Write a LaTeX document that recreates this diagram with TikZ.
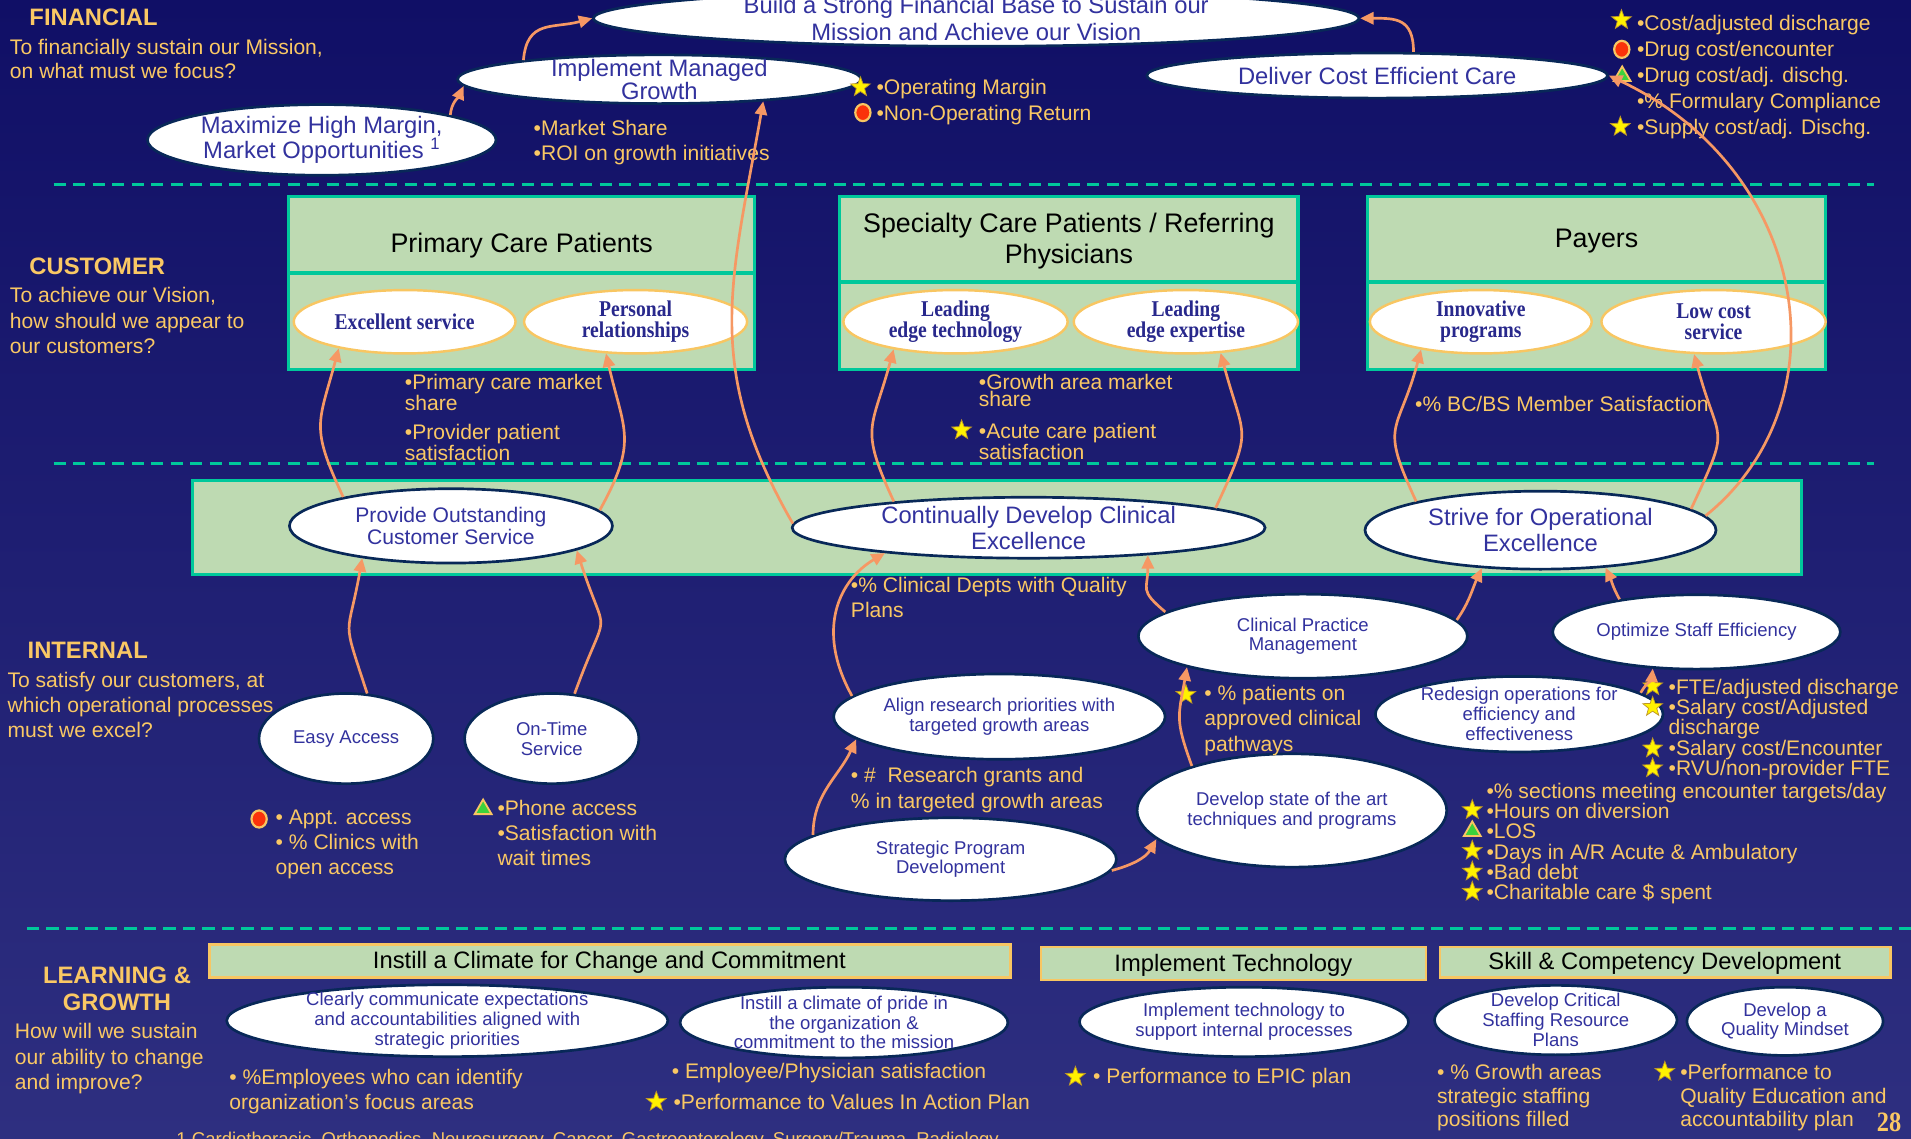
\documentclass[tikz,border=0pt]{standalone}
\usepackage{fontspec}
\setmainfont{Liberation Sans}
\newfontfamily\narrowserif{Liberation Serif}[FakeStretch=0.87]
\usetikzlibrary{shapes.geometric,arrows.meta}

\definecolor{bgtop}{RGB}{16,15,102}
\definecolor{bgbot}{RGB}{46,47,128}
\definecolor{goldtext}{RGB}{250,200,100}
\definecolor{inkblue}{RGB}{50,50,158}
\definecolor{custink}{RGB}{40,40,140}
\definecolor{rimblue}{RGB}{8,40,88}
\definecolor{leaf}{RGB}{190,218,178}
\definecolor{tealrim}{RGB}{0,200,155}
\definecolor{arrowcol}{RGB}{246,152,100}
\definecolor{amberrim}{RGB}{248,198,98}
\definecolor{redmark}{RGB}{250,50,10}
\definecolor{greenmark}{RGB}{60,210,60}
\definecolor{starrim}{RGB}{190,150,40}

\newcommand\fz[2]{\fontsize{#1pt}{#2pt}\selectfont}
% ellipse with its caption: style, name, x, y, width, height, caption style, caption
\newcommand\ovalnode[8]{%
  \node[#1, minimum width=#5pt, minimum height=#6pt] (#2) at (#3,#4) {};
  \node[#7] (#2-t) at (#2.center) {#8};}

\tikzset{
  bubble/.style={ellipse, draw=rimblue, line width=2.2pt, fill=white, inner sep=0pt},
  custoval/.style={ellipse, draw=amberrim, line width=2pt, fill=white, inner sep=0pt},
  lbl/.style={text=inkblue, align=center, inner sep=0pt},
  custlbl/.style={text=custink, align=center, inner sep=0pt, font=\narrowserif\bfseries\fz{18.5}{17}},
  note/.style={text=goldtext, align=left, inner sep=0pt, font=\fz{17.3}{20}},
  head/.style={text=goldtext, inner sep=0pt, font=\bfseries\fz{19.5}{22.7}},
  arr/.style={draw=arrowcol, line width=2.2pt, -{Triangle[length=11pt,width=10pt]}},
  panel/.style={draw=tealrim, line width=2.5pt, fill=leaf},
  divider/.style={draw=tealrim, line width=3pt},
  lgbox/.style={draw=amberrim, line width=2pt, fill=leaf},
  sepline/.style={draw=tealrim, line width=2.5pt, dash pattern=on 10pt off 6pt},
  boxtext/.style={text=black, inner sep=0pt, align=center},
  starmark/.style={star, star points=5, star point ratio=2.4, fill=yellow, draw=starrim, line width=.6pt, minimum size=17pt, inner sep=0pt},
  dotmark/.style={ellipse, fill=redmark, draw=amberrim, line width=1.8pt, minimum width=12.5pt, minimum height=14pt, inner sep=0pt},
  trimark/.style={regular polygon, regular polygon sides=3, fill=greenmark, draw=amberrim, line width=1.5pt, minimum size=16pt, inner sep=0pt},
}

\begin{document}
\begin{tikzpicture}[x=1pt,y=1pt]
\useasboundingbox (0,0) rectangle (1568,-934);
\shade[top color=bgtop, bottom color=bgbot] (0,0) rectangle (1568,-934);

% separators between the four perspectives
\draw[sepline] (44,-151) -- (1538,-151);
\draw[sepline] (44,-380) -- (1538,-380);
\draw[sepline] (22,-762) -- (1568,-762);

% customer panels
\draw[panel] (237,-161) rectangle (619,-303);
\draw[divider] (237,-224) -- (619,-224);
\draw[panel] (689,-161) rectangle (1065,-303);
\draw[divider] (689,-231.5) -- (1065,-231.5);
\draw[panel] (1122,-161) rectangle (1498,-303);
\draw[divider] (1122,-231.5) -- (1498,-231.5);
\node[boxtext, font=\fz{22}{25}] (primhead) at (428,-201.2) {Primary Care Patients};
\node[boxtext, font=\fz{22}{25}] (spechead) at (877,-197.7) {Specialty Care Patients / Referring\\Physicians};
\node[boxtext, font=\fz{22}{25}] (payhead) at (1310,-197.7) {Payers};

% internal band
\draw[panel] (158,-394) rectangle (1478,-471);

% learning & growth headers
\draw[lgbox] (172,-775) rectangle (829,-802);
\draw[lgbox] (854,-777) rectangle (1170,-804);
\draw[lgbox] (1181.5,-777) rectangle (1551,-802);
\node[boxtext, font=\fz{19.5}{22}] (climhead) at (500,-790) {Instill a Climate for Change and Commitment};
\node[boxtext, font=\fz{19.5}{22}] (techhead) at (1012,-792) {Implement Technology};
\node[boxtext, font=\fz{19.5}{22}] (skillhead) at (1366,-790.6) {Skill \& Competency Development};

% financial objectives
\ovalnode{bubble}{build}{801}{-15}{628}{46}{lbl,font=\fz{19.5}{22}}{Build a Strong Financial Base to Sustain our\\Mission and Achieve our Vision}
\ovalnode{bubble}{implgrowth}{541}{-65}{331}{40}{lbl,font=\fz{19.5}{18.6}}{Implement Managed\\Growth}
\ovalnode{bubble}{deliver}{1130}{-62}{378}{37}{lbl,font=\fz{19.5}{22}}{Deliver Cost Efficient Care}
\ovalnode{bubble}{maxim}{264}{-114.8}{286}{58}{lbl,font=\fz{19.5}{21}}{Maximize High Margin,\\Market Opportunities \textsuperscript{1}}

% customer value propositions
\ovalnode{custoval}{excellent}{332}{-264}{182}{52}{custlbl}{Excellent service}
\ovalnode{custoval}{personal}{521.5}{-264}{183}{52}{custlbl}{Personal\\relationships}
\ovalnode{custoval}{leadtech}{784}{-264}{184}{52}{custlbl}{Leading\\edge technology}
\ovalnode{custoval}{leadexp}{973}{-264}{184}{52}{custlbl}{Leading\\edge expertise}
\ovalnode{custoval}{innov}{1215}{-264}{182}{52}{custlbl}{Innovative\\programs}
\ovalnode{custoval}{lowcost}{1406}{-264}{184}{52}{custlbl}{Low cost\\service}

% internal processes
\ovalnode{bubble}{provide}{370}{-431.5}{265}{61}{lbl,font=\fz{17.3}{18.5}}{Provide Outstanding\\Customer Service}
\ovalnode{bubble}{contdev}{844}{-433}{388}{50}{lbl,font=\fz{19.5}{21.4}}{Continually Develop Clinical\\Excellence}
\ovalnode{bubble}{strive}{1264}{-435}{288}{64}{lbl,font=\fz{19.5}{21.8}}{Strive for Operational\\Excellence}
\ovalnode{bubble}{easy}{284}{-606}{143}{74}{lbl,font=\fz{15.2}{16.5}}{Easy Access}
\ovalnode{bubble}{ontime}{452.7}{-606}{143}{74}{lbl,font=\fz{15.2}{16.5}}{On-Time\\Service}
\ovalnode{bubble}{clinprac}{1069}{-522}{270}{69}{lbl,font=\fz{15.2}{16}}{Clinical Practice\\Management}
\ovalnode{bubble}{optstaff}{1392}{-518.5}{236}{61}{lbl,font=\fz{15.2}{16}}{Optimize Staff Efficiency}
\ovalnode{bubble}{research}{820}{-588}{272}{70}{lbl,font=\fz{15.2}{17}}{Align research priorities with\\targeted growth areas}
\ovalnode{bubble}{redesign}{1246.5}{-586}{236}{62}{lbl,font=\fz{15.2}{16.3}}{Redesign operations for\\efficiency and\\effectiveness}
\ovalnode{bubble}{devstate}{1060}{-665}{254}{93}{lbl,font=\fz{15.2}{16.4}}{Develop state of the art\\techniques and programs}
\ovalnode{bubble}{strategic}{780}{-705}{272}{68}{lbl,font=\fz{15.2}{16.2}}{Strategic Program\\Development}

% learning & growth objectives
\ovalnode{bubble}{clearly}{367}{-837.5}{362}{59}{lbl,font=\fz{15.2}{16.3}}{Clearly communicate expectations\\and accountabilities aligned with\\strategic priorities}
\ovalnode{bubble}{pride}{692.5}{-839}{269}{58}{lbl,font=\fz{15.2}{16.2}}{Instill a climate of pride in\\the organization \&\\commitment to the mission}
\ovalnode{bubble}{impltech}{1020.7}{-838.5}{270}{57}{lbl,font=\fz{15.2}{16}}{Implement technology to\\support internal processes}
\ovalnode{bubble}{critical}{1276.5}{-837}{199}{57}{lbl,font=\fz{15.2}{16.2}}{Develop Critical\\Staffing Resource\\Plans}
\ovalnode{bubble}{mindset}{1464.6}{-838}{161}{56}{lbl,font=\fz{15.2}{15.5}}{Develop a\\Quality Mindset}

% perspective headings and questions
\node[head, anchor=base west] (hfin) at (24,-21.2) {FINANCIAL};
\node[note, anchor=north west] (qfin) at (8,-32) {To financially sustain our Mission,\\on what must we focus?};
\node[head, anchor=base west] (hcust) at (24,-225.5) {CUSTOMER};
\node[note, anchor=north west, font=\fz{17.3}{20.8}] (qcust) at (8,-235.7) {To achieve our Vision,\\how should we appear to\\our customers?};
\node[head, anchor=base west] (hint) at (22.5,-540) {INTERNAL};
\node[note, anchor=north west, font=\fz{17.3}{20.3}] (qint) at (6,-551.7) {To satisfy our customers, at\\which operational processes\\must we excel?};
\node[head, anchor=north, align=center] (hlg) at (96,-792.8) {LEARNING \&\\GROWTH};
\node[note, anchor=north west, font=\fz{17.3}{20.8}] (qlg) at (12,-839.7) {How will we sustain\\our ability to change\\and improve?};

% financial measures
\node[note, anchor=base west] (nopm) at (719,-77.7) {•Operating Margin};
\node[note, anchor=base west] (nnor) at (719,-98.6) {•Non-Operating Return};
\node[note, anchor=base west] (nms) at (437.7,-111.5) {•Market Share};
\node[note, anchor=base west] (nroi) at (437.7,-132) {•ROI on growth initiatives};
\node[note, anchor=base west] (ncad) at (1343,-24.8) {•Cost/adjusted discharge};
\node[note, anchor=base west] (ndce) at (1343,-46.7) {•Drug cost/encounter};
\node[note, anchor=base west] (ndca) at (1343,-67.7) {•Drug cost/adj. dischg.};
\node[note, anchor=base west] (nfc) at (1343,-88.7) {•\% Formulary Compliance};
\node[note, anchor=base west] (nsc) at (1343,-110.2) {•Supply cost/adj. Dischg.};

% customer measures
\node[note, anchor=north west, font=\fz{17.3}{14.5}] (npcm) at (332,-307.2) {•Primary care market\\share};
\node[note, anchor=north west, font=\fz{17.3}{14.5}] (npps) at (332,-347.7) {•Provider patient\\satisfaction};
\node[note, anchor=north west, font=\fz{17.3}{14.5}] (ngam) at (803,-306.7) {•Growth area market\\share};
\node[note, anchor=north west, font=\fz{17.3}{14.5}] (nacp) at (803,-347.1) {•Acute care patient\\satisfaction};
\node[note, anchor=base west] (nbcbs) at (1161,-337.8) {•\% BC/BS Member Satisfaction};

% internal measures
\node[note, anchor=north west, font=\fz{17.3}{20.3}] (nappt) at (226,-664.7) {• Appt. access\\• \% Clinics with\\open access};
\node[note, anchor=north west, font=\fz{17.3}{20.5}] (nphone) at (408,-656.7) {•Phone access\\•Satisfaction with\\wait times};
\node[note, anchor=north west, font=\fz{17.3}{20.6}] (nqual) at (698,-473.7) {•\% Clinical Depts with Quality\\Plans};
\node[note, anchor=north west, font=\fz{17.3}{21.2}] (npath) at (988,-561.7) {• \% patients on\\approved clinical\\pathways};
\node[note, anchor=north west, font=\fz{17.3}{21}] (ngrant) at (698,-629.7) {• \#\ \ Research grants and\\\% in targeted growth areas};
\node[note, anchor=north west, font=\fz{17.3}{16.8}] (nfte) at (1369,-556.7) {•FTE/adjusted discharge\\•Salary cost/Adjusted\\discharge\\•Salary cost/Encounter\\•RVU/non-provider FTE};
\node[note, anchor=north west, font=\fz{17.3}{16.6}] (nsect) at (1219.5,-642.4) {•\% sections meeting encounter targets/day\\•Hours on diversion\\•LOS\\•Days in A/R Acute \& Ambulatory\\•Bad debt\\•Charitable care \$ spent};

% learning & growth measures
\node[note, anchor=north west, font=\fz{17.3}{21}] (nemp) at (188,-876.7) {• \%Employees who can identify\\organization’s focus areas};
\node[note, anchor=base west] (nsat) at (551,-885.2) {• Employee/Physician satisfaction};
\node[note, anchor=base west] (nvia) at (552.5,-910.2) {•Performance to Values In Action Plan};
\node[note, anchor=base west] (nepic) at (896.8,-888.7) {• Performance to EPIC plan};
\node[note, anchor=north west, font=\fz{17.3}{19}] (ngrow) at (1179,-873.3) {• \% Growth areas\\strategic staffing\\positions filled};
\node[note, anchor=north west, font=\fz{17.3}{19}] (nqed) at (1378.5,-873.3) {•Performance to\\Quality Education and\\accountability plan};
\node[note, anchor=base west, font=\fz{15.2}{17}] (footnote) at (144.6,-939.5) {1 Cardiothoracic, Orthopedics, Neurosurgery, Cancer, Gastroenterology, Surgery/Trauma, Radiology};
\node[text=goldtext, inner sep=0pt, font=\narrowserif\bfseries\fz{23}{23}] (pageno) at (1550,-921) {28};

% status markers
\node[starmark] (s1) at (706,-71.5) {};
\node[dotmark] (d1) at (708,-92.4) {};
\node[starmark] (s2) at (1330.4,-16.4) {};
\node[dotmark] (d2) at (1330.7,-40.5) {};
\node[trimark] (t1) at (1331,-62.5) {};
\node[starmark] (s3) at (1329.5,-104) {};
\node[starmark] (s4) at (789,-353) {};
\node[dotmark] (d3) at (212.6,-672) {};
\node[trimark] (t2) at (396.4,-664) {};
\node[starmark] (s5) at (973,-570) {};
\node[starmark] (s6) at (1356,-563) {};
\node[starmark] (s7) at (1356,-580) {};
\node[starmark] (s8) at (1356,-614) {};
\node[starmark] (s9) at (1356,-630.3) {};
\node[starmark] (s10) at (1208,-664.6) {};
\node[trimark] (t3) at (1208,-682) {};
\node[starmark] (s11) at (1208,-698) {};
\node[starmark] (s12) at (1208,-715) {};
\node[starmark] (s13) at (1208,-731.6) {};
\node[starmark] (s14) at (538.5,-904) {};
\node[starmark] (s15) at (882.4,-883.4) {};
\node[starmark] (s16) at (1366,-879.3) {};

% cause-and-effect links
\draw[arr] (maxim.11) to[out=85,in=-115] (implgrowth.182);
\draw[arr] (implgrowth.172) to[out=85,in=195,looseness=1.3] (build.west);
\draw[arr] (deliver.33) to[out=90,in=0,looseness=1.4] (build.east);
\draw[arr] (contdev.179) to[out=120,in=-100,looseness=1.1] (implgrowth.-12);
\draw[arr] (strive.5) .. controls (1515,-330) and (1485,-140) .. (deliver.east);
\draw[arr] (provide.165) to[out=115,in=-105,looseness=1.35] (excellent.202);
\draw[arr] (provide.6) to[out=61,in=-77,looseness=1.3] (personal.227);
\draw[arr] (contdev.169) to[out=115,in=-105,looseness=1.4] (leadtech.204);
\draw[arr] (contdev.6) to[out=65,in=-75,looseness=1.5] (leadexp.-42);
\draw[arr] (strive.167) to[out=115,in=-105,looseness=1.5] (innov.205);
\draw[arr] (strive.8) to[out=65,in=-75,looseness=1.6] (lowcost.239);
\draw[arr] (easy.65) to[out=108,in=-100,looseness=1.6] (provide.200);
\draw[arr] (ontime.63) to[out=70,in=-72,looseness=1.8] (provide.-11);
\draw[arr] (research.172) .. controls (668,-515) and (690,-475) .. (contdev.190);
\draw[arr] (clinprac.170) to[out=140,in=-90,looseness=1.5] (contdev.-13);
\draw[arr] (clinprac.6) to[out=55,in=-115] (strive.213);
\draw[arr] (optstaff.157) to[out=120,in=-65] (strive.-30);
\draw[arr] (strategic.170) to[out=90,in=-115] (research.189);
\draw[arr] (strategic.-4) to[out=15,in=-120] (devstate.192);
\draw[arr] (devstate.156) to[out=110,in=-100,looseness=1.3] (clinprac.195);
\draw[arr] (redesign.10) to[out=60,in=-95] (optstaff.220);
\end{tikzpicture}
\end{document}
